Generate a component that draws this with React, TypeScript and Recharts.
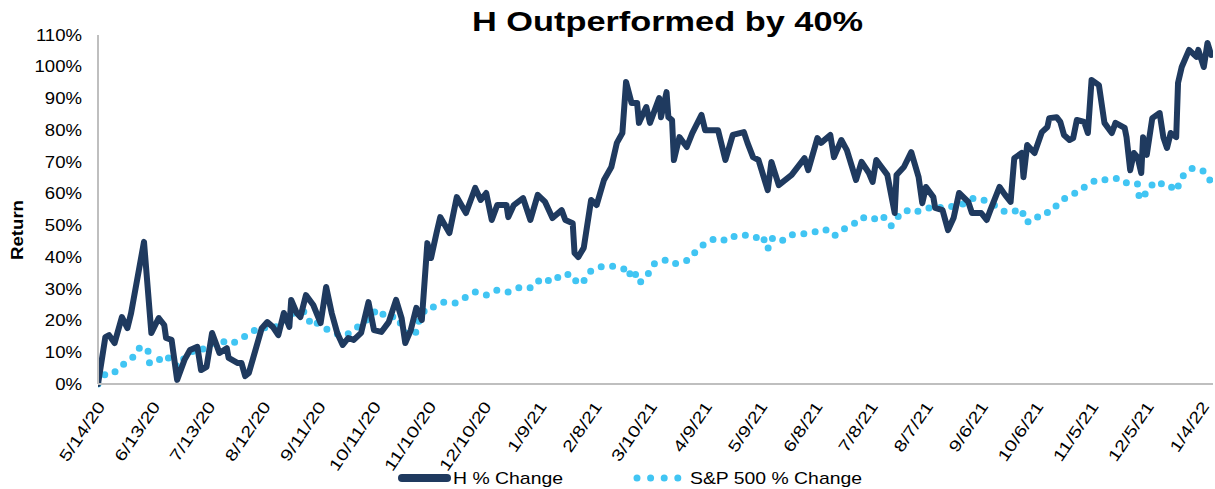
import React from 'react';
import { LineChart, Line, XAxis, YAxis, Legend } from 'recharts';

// ---- Data (x = days since 5/14/20, values in %) ----
const hDays = [0,4,6,9,13,16,18,25,29,33,36,37,40,43,47,50,54,56,59,62,66,70,71,76,78,80,82,89,92,95,98,101,104,105,108,110,113,117,121,124,127,130,133,136,139,143,147,150,154,158,162,165,167,170,173,176,179,181,184,186,191,195,200,205,208,211,214,217,222,223,226,231,235,239,243,247,252,254,258,259,261,264,268,271,275,279,282,285,287,290,293,294,298,300,305,306,309,310,312,313,316,320,323,328,330,337,341,345,351,353,356,359,364,366,370,377,384,386,391,393,398,400,404,407,412,415,419,421,423,425,429,433,434,438,442,446,448,450,454,455,459,462,465,468,473,475,480,483,485,490,493,496,498,502,503,505,509,513,516,517,521,523,525,528,530,532,536,538,540,544,547,549,551,553,558,559,561,563,565,567,568,570,573,577,579,581,583,586,587,589,593,597,598,601,603,605];
const hValues = [0,14.8,15.4,12.9,21.1,17.6,22.4,44.8,16.1,20.8,18.6,14.5,13.9,1.3,7.6,10.7,11.7,4.4,5.4,16.1,9.8,11.3,8.2,6.6,6.6,2.5,3.5,17.6,19.5,18,15.4,22.4,18,26.5,22.4,21.1,28,24.9,19.2,30.6,22.4,16.1,12.3,14.5,13.9,16.1,25.8,17,16.4,19.5,26.5,20.8,12.9,17,24,20.2,44.4,39.7,47.6,52.6,47.6,58.9,53.9,61.8,58,60.2,51.7,56.4,56.4,52.6,56.4,58.6,51.7,59.6,57.4,52.3,54.8,51.7,50.7,41.3,40,42.9,58,56.4,64.3,68.4,76,79.1,95.2,88.6,88.6,82.3,87.3,82.3,90.1,84.1,92,84.1,83.2,70.6,77.8,74.7,79.1,84.8,80,80,70.6,78.5,79.4,76,71.5,70.6,61.1,70,62.7,65.9,71.2,67.4,77.5,76,78.5,71.5,76.9,73.7,64.3,70,66.5,63.7,70.6,69,65.9,53.9,65.9,68.4,73.1,65.2,57,62.1,58.9,55.5,54.8,48.5,52.3,60.2,57.4,53.9,53.9,51.7,54.8,62.1,59.6,57.4,71.2,72.8,65.2,75.3,72.8,79.4,81,83.8,84.1,82.6,78.5,76.9,77.5,83.2,82.6,79.1,95.8,94.2,82.3,80.7,79.1,82.3,80.7,77.8,67.4,72.8,71.5,66.5,77.8,72.2,83.8,85.4,77.8,74.4,79.1,77.8,94.9,99.9,105.3,103.1,105.3,99.9,107.5,103.7];

const spDays = [0,4,8,14,19,22,27,28,32,36,41,43,47,53,57,61,67,72,76,82,88,92,99,103,110,113,116,119,122,127,132,135,140,144,147,152,157,162,166,168,173,175,179,183,188,194,199,205,211,217,223,230,236,241,247,252,258,260,263,267,273,279,286,288,291,294,298,302,308,312,316,321,326,331,336,342,346,351,357,361,364,366,371,376,383,389,395,400,404,410,415,421,426,431,434,439,443,449,455,461,465,470,476,483,489,493,497,502,504,508,513,518,522,528,533,538,544,549,555,560,565,566,568,572,576,579,582,586,589,595,601,605];
const spValues = [0,3.2,3.2,6.3,8.5,11.3,11.3,6.6,6.9,9.1,7.2,5.4,8.2,11,11,12.6,13.6,12.6,13.6,15.8,18,17.6,18.3,21.4,23.3,22.4,18.3,19.2,18,16.4,15.4,15.4,17.6,18.9,20.8,23.6,20.8,21.4,17.6,15.4,16.4,21.1,24.3,24.3,25.8,25.5,27.1,29,28,29.6,29,30.6,30.3,33.4,32.1,34.7,34.4,32.1,31.5,35.3,36.9,37.2,36.2,34,36.2,31.8,33.7,37.8,39.1,37.8,38.1,39.1,42.5,44.8,46,45.1,46.6,47,46,47,42.5,46,44.8,47,47.3,47.9,48.8,46.6,48.5,50.1,52.6,51.7,53.3,49.8,52.3,54.8,53.9,55.2,55.8,55.5,56.1,56.7,58.6,57.7,55.8,54.2,54.2,55.2,51.1,51.1,53.9,54.2,57,59.6,60.5,63,64.6,64.3,64.9,63,63,58.3,58.9,62.4,64,62.7,62.7,60.8,65.2,68.1,67.1,63.7];

const tickLabels = ['5/14/20','6/13/20','7/13/20','8/12/20','9/11/20','10/11/20','11/10/20','12/10/20','1/9/21','2/8/21','3/10/21','4/9/21','5/9/21','6/8/21','7/8/21','8/7/21','9/6/21','10/6/21','11/5/21','12/5/21','1/4/22'];
const yTicks = [0,10,20,30,40,50,60,70,80,90,100,110];

const seriesNames = ['H % Change', 'S&P 500 % Change'];
const title = 'H Outperformed by 40%';

// ---- helpers ----
const START = Date.UTC(2020, 4, 14);
const labelToDay = (l: string) => {
  const [m, d, y] = l.split('/').map(Number);
  return Math.round((Date.UTC(2000 + y, m - 1, d) - START) / 86400000);
};
const tickDays = tickLabels.map(labelToDay);
const dayToLabel: Record<number, string> = {};
tickLabels.forEach((l, i) => { dayToLabel[tickDays[i]] = l; });

const hData = hDays.map((d, i) => ({ day: d, v: hValues[i] }));
const spData = spDays.map((d, i) => ({ day: d, v: spValues[i] }));

const NAVY = '#1f3a5f';
const CYAN = '#41c5f3';
const FONT = '"Liberation Sans", Arial, sans-serif';

// approximate Arial advance widths (em) for date labels
const textWidthEm = (s: string) => s.split('').reduce((w, c) => w + (c === '/' ? 0.278 : 0.556), 0);

const YTick = (props: any) => {
  const { x, y, payload } = props;
  return (
    <text transform={`translate(${x - 8},${y}) scale(1.16,1)`} textAnchor="end" dy="0.36em"
      fontFamily={FONT} fontSize={16} fill="#000">{payload.value}%</text>
  );
};

const XTick = (props: any) => {
  const { x, y, payload } = props;
  const label = dayToLabel[payload.value] ?? '';
  const fs = 16;
  const len = textWidthEm(label) * fs * 1.28;
  return (
    <g transform={`translate(${x + 3},${y + 11})`}>
      <text transform="rotate(-56)" textAnchor="end" dy="0.36em"
        fontFamily={FONT} fontSize={fs} fill="#000" textLength={len} lengthAdjust="spacingAndGlyphs">{label}</text>
    </g>
  );
};

const renderLegend = () => (
  <svg width={1215} height={24} style={{ display: 'block' }}>
    <line x1={402} y1={12} x2={447} y2={12} stroke={NAVY} strokeWidth={8} strokeLinecap="round" />
    <text x={453} y={12} dy="0.36em" fontFamily={FONT} fontSize={17} fill="#000"
      textLength={110} lengthAdjust="spacingAndGlyphs">{seriesNames[0]}</text>
    <line x1={637} y1={12} x2={678} y2={12} stroke={CYAN} strokeWidth={7} strokeLinecap="round" strokeDasharray="0 13.6" />
    <text x={690} y={12} dy="0.36em" fontFamily={FONT} fontSize={17} fill="#000"
      textLength={172} lengthAdjust="spacingAndGlyphs">{seriesNames[1]}</text>
  </svg>
);

export default function App() {
  return (
    <div style={{ position: 'absolute', left: 0, top: 0, width: 1215, height: 489, background: '#fff' }}>
      <LineChart width={1215} height={489} margin={{ top: 35, right: 2, left: 0, bottom: 0 }}>
        <XAxis type="number" dataKey="day" domain={[0, 606]} ticks={tickDays} interval={0}
          tick={<XTick />} tickLine={false} axisLine={{ stroke: '#bfbfbf', strokeWidth: 2 }}
          height={81} allowDataOverflow />
        <YAxis type="number" domain={[0, 110]} ticks={yTicks} interval={0} width={98}
          tick={<YTick />} tickLine={false} axisLine={{ stroke: '#bfbfbf', strokeWidth: 2 }} />
        <Legend verticalAlign="bottom" height={24} content={renderLegend}
          wrapperStyle={{ left: 0, top: 466, width: 1215, height: 24 }} />
        <Line data={spData} dataKey="v" name={seriesNames[1]} type="linear" stroke={CYAN} strokeWidth={7}
          strokeLinecap="round" strokeDasharray="0 11.5" dot={false} activeDot={false} isAnimationActive={false} />
        <Line data={hData} dataKey="v" name={seriesNames[0]} type="linear" stroke={NAVY} strokeWidth={6}
          strokeLinejoin="round" strokeLinecap="round" dot={false} activeDot={false} isAnimationActive={false} />
      </LineChart>
      <svg width={1215} height={489} style={{ position: 'absolute', left: 0, top: 0, pointerEvents: 'none' }}>
        <text x={667.5} y={31} textAnchor="middle" fontFamily={FONT} fontWeight="bold" fontSize={27} fill="#000"
          textLength={391} lengthAdjust="spacingAndGlyphs">{title}</text>
        <text transform="translate(23,230) rotate(-90)" textAnchor="middle" fontFamily={FONT} fontWeight="bold"
          fontSize={17} fill="#000" textLength={60} lengthAdjust="spacingAndGlyphs">Return</text>
      </svg>
    </div>
  );
}
